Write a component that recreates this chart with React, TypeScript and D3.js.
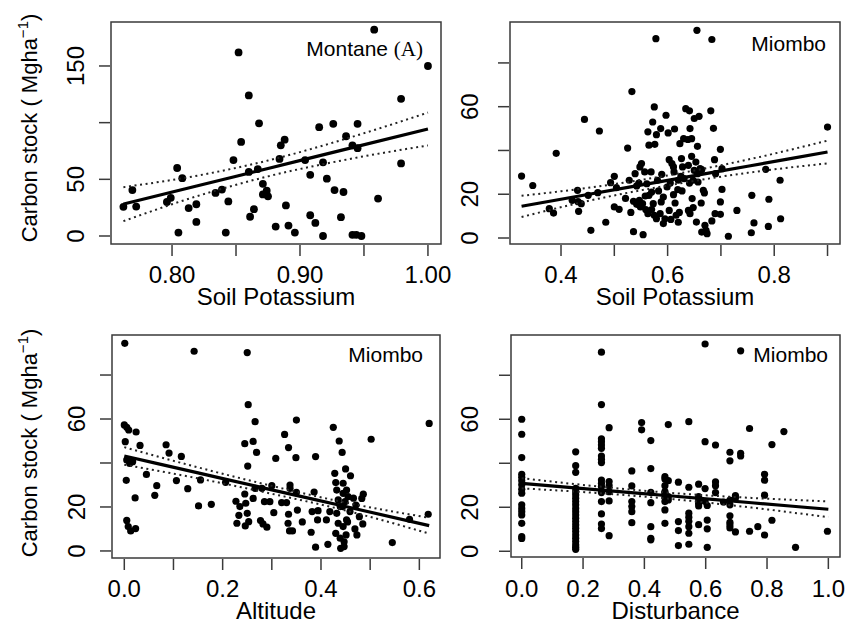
import React from 'react';
import * as d3 from 'd3';

// ---------- DATA ----------
// Panel A: Montane, Soil Potassium vs Carbon stock
const montanePts: [number, number][] = [
  [0.958, 182], [0.852, 162], [1.0, 150], [0.86, 124], [0.979, 121], [0.868, 99.4],
  [0.915, 96], [0.926, 99], [0.945, 99], [0.888, 85], [0.885, 80], [0.854, 83],
  [0.936, 88], [0.941, 80], [0.945, 77.5], [0.848, 67], [0.884, 68], [0.904, 67],
  [0.918, 65], [0.979, 64], [0.804, 60], [0.808, 51], [0.86, 56.5], [0.867, 59],
  [0.908, 54], [0.921, 50.6], [0.769, 40.5], [0.762, 25.7], [0.772, 26], [0.796, 30],
  [0.799, 33.7], [0.813, 24.6], [0.819, 28], [0.834, 38], [0.839, 41], [0.844, 30.5],
  [0.871, 46], [0.874, 40], [0.871, 36.7], [0.875, 35], [0.927, 40.5], [0.934, 38.8],
  [0.961, 33], [0.889, 27], [0.864, 23.7], [0.861, 17], [0.908, 18.3], [0.912, 11.5],
  [0.932, 16.6], [0.819, 12.4], [0.805, 3], [0.842, 3], [0.881, 8.3], [0.891, 9.2],
  [0.896, 3], [0.918, 0], [0.941, 1], [0.944, 1], [0.948, 0],
];
const montaneFitX = [0.762, 0.82, 0.875, 0.94, 1.0];
const montaneFit = [28.1, 44.3, 59.6, 77.7, 94.4];
const montaneUpper = [43.1, 53.3, 66.6, 87.2, 108.9];
const montaneLower = [13.1, 35.3, 52.6, 68.2, 79.9];

// Panel B: Miombo, Soil Potassium
const miomboKPts: [number, number][] = [
  [0.326, 28.3], [0.347, 24], [0.391, 38.7], [0.378, 13.4], [0.386, 11.4], [0.431, 21.8],
  [0.421, 17.2], [0.432, 16.6], [0.438, 15.7], [0.433, 12.2], [0.444, 54.2], [0.451, 19.5],
  [0.456, 3.5], [0.472, 48.9], [0.469, 20.7], [0.484, 7.2], [0.493, 25.3], [0.5, 28.2],
  [0.504, 23], [0.5, 14.2], [0.509, 13.1], [0.521, 18.1], [0.525, 41.1], [0.528, 26.4],
  [0.533, 66.9], [0.531, 11.7], [0.536, 2.9], [0.539, 29.4], [0.542, 23.8], [0.546, 25.1],
  [0.551, 34], [0.547, 17.2], [0.553, 15.7], [0.554, 1.5], [0.558, 19.2], [0.561, 24.8],
  [0.563, 48.5], [0.565, 42.4], [0.569, 30.2], [0.57, 21], [0.572, 53], [0.575, 59.9],
  [0.578, 91.1], [0.576, 42.8], [0.579, 47.2], [0.581, 26.4], [0.573, 15.7], [0.57, 13],
  [0.575, 10.4], [0.579, 8.8], [0.586, 11.1], [0.588, 16.5], [0.589, 29.1], [0.587, 50],
  [0.592, 6.6], [0.595, 8.8], [0.597, 56.1], [0.599, 23.3], [0.601, 48], [0.603, 35.8],
  [0.603, 12.6], [0.605, 25.1], [0.606, 8.5], [0.608, 34], [0.611, 19.8], [0.613, 49.8],
  [0.612, 30.2], [0.614, 16], [0.616, 10.4], [0.619, 22.1], [0.62, 7.2], [0.622, 11.7],
  [0.623, 43.1], [0.625, 28.2], [0.627, 21.5], [0.628, 32.5], [0.63, 45.4], [0.634, 59.1],
  [0.641, 58.1], [0.638, 45], [0.642, 50], [0.639, 33.2], [0.641, 25.1], [0.639, 12.6],
  [0.645, 45.4], [0.645, 37.3], [0.646, 18], [0.648, 13.9], [0.65, 54.6], [0.65, 30.9],
  [0.653, 34.7], [0.656, 41.9], [0.654, 7.3], [0.655, 94.9], [0.657, 25.6], [0.659, 55.6],
  [0.661, 31.7], [0.663, 16], [0.667, 21.8], [0.669, 20.6], [0.67, 5.8], [0.672, 3.5],
  [0.674, 2], [0.664, 2.7], [0.681, 58.1], [0.683, 90.7], [0.683, 7.8], [0.686, 50.1],
  [0.688, 35.8], [0.69, 29.4], [0.689, 11.1], [0.699, 40.5], [0.699, 10.8], [0.702, 22.2],
  [0.702, 31.7], [0.699, 16.5], [0.714, 0.8], [0.73, 12.6], [0.758, 19.5], [0.762, 6.9],
  [0.757, 2.4], [0.784, 31.4], [0.79, 17.7], [0.789, 5.3], [0.811, 26.4], [0.812, 8.8],
  [0.9, 50.7], [0.536, 16.8], [0.542, 15.4], [0.549, 14.2], [0.559, 13], [0.563, 11.1],
  [0.565, 19.5], [0.583, 21.5], [0.592, 18.7], [0.62, 26.4], [0.631, 27.1], [0.648, 26.4],
  [0.656, 29.4], [0.664, 31.2], [0.642, 11.1], [0.626, 36.3], [0.611, 32.5], [0.557, 30.2],
  [0.548, 32.5],
];
const miomboKFitX = [0.326, 0.45, 0.6, 0.75, 0.9];
const miomboKFit = [14.5, 19.9, 26.3, 32.8, 39.3];
const miomboKUpper = [19.3, 22.9, 28.6, 35.8, 44.5];
const miomboKLower = [9.6, 16.9, 24.0, 29.8, 34.1];

// Panel C: Miombo, Altitude
const altitudePts: [number, number][] = [
  [0.001, 94.4], [0.142, 90.8], [0.25, 90.2], [0.252, 66.5], [0.266, 58.8], [0.35, 59.5],
  [0.62, 58], [0.425, 56.2], [0.0, 57.3], [0.005, 56.2], [0.009, 55], [0.024, 54.1],
  [0.002, 49.7], [0.032, 48], [0.085, 48.3], [0.091, 44.5], [0.116, 43], [0.005, 41.4],
  [0.017, 40.6], [0.011, 39.8], [0.004, 32.1], [0.045, 34.8], [0.022, 24.1], [0.066, 29.7],
  [0.062, 25.3], [0.106, 32], [0.129, 28.3], [0.155, 32.3], [0.151, 20.5], [0.177, 21.2],
  [0.206, 31.2], [0.245, 48.8], [0.262, 49.8], [0.269, 44.8], [0.251, 38.6], [0.245, 25.9],
  [0.227, 22.6], [0.235, 20.2], [0.247, 21.7], [0.233, 16.2], [0.25, 17.1], [0.229, 12.6],
  [0.246, 11.4], [0.253, 13.3], [0.262, 23.9], [0.266, 28.5], [0.28, 28.5], [0.285, 22.4],
  [0.277, 13.8], [0.282, 12.3], [0.29, 10.8], [0.296, 22.4], [0.3, 29.7], [0.304, 17.4],
  [0.308, 42.1], [0.326, 53], [0.334, 47], [0.349, 42.4], [0.32, 22], [0.33, 22],
  [0.337, 30], [0.337, 28.5], [0.334, 16.7], [0.333, 12.6], [0.336, 9.1], [0.342, 9.1],
  [0.35, 26.7], [0.352, 18.6], [0.362, 13.2], [0.38, 8.5], [0.386, 26.8], [0.389, 42.9],
  [0.382, 17.9], [0.394, 18.3], [0.393, 14.1], [0.389, 1.7], [0.414, 3], [0.411, 14.1],
  [0.418, 17.9], [0.428, 35.3], [0.43, 31.1], [0.432, 27.7], [0.437, 50], [0.443, 44.8],
  [0.435, 23.2], [0.439, 20.2], [0.432, 17.1], [0.435, 12.6], [0.43, 8], [0.439, 5.8],
  [0.44, 1.2], [0.447, 2], [0.45, 37.3], [0.46, 34.2], [0.445, 30.8], [0.452, 27.7],
  [0.455, 24.7], [0.445, 26.2], [0.449, 22.4], [0.452, 14.1], [0.445, 11.1], [0.451, 7.3],
  [0.447, 4.2], [0.444, 20.2], [0.459, 17.9], [0.466, 24], [0.471, 20.9], [0.454, 13.2],
  [0.469, 10], [0.473, 7.3], [0.478, 15.6], [0.483, 23.9], [0.486, 25.8], [0.485, 12.3],
  [0.502, 50.8], [0.545, 3.8], [0.58, 14.4], [0.618, 16.7], [0.005, 13.9], [0.008, 11.1],
  [0.013, 9.1], [0.023, 10.2],
];
const altitudeFitX = [0.0, 0.15, 0.3, 0.45, 0.62];
const altitudeFit = [43.2, 35.5, 27.8, 20.2, 11.5];
const altitudeUpper = [47.2, 38.0, 29.6, 22.0, 15.1];
const altitudeLower = [39.2, 33.0, 26.0, 18.4, 7.9];

// Panel D: Miombo, Disturbance (discrete levels)
const disturbanceLevels = [
  0.0, 0.176, 0.26, 0.285, 0.359, 0.391, 0.421, 0.467, 0.478, 0.511, 0.545, 0.577,
  0.598, 0.605, 0.632, 0.658, 0.679, 0.697, 0.714, 0.743, 0.77, 0.792, 0.816, 0.855,
  0.893, 0.997,
];
const carbonByDisturbance: number[][] = [
  [60, 53.2, 42.6, 35, 33.6, 32, 30.2, 28.2, 26.4, 21.1, 19.5, 18, 16.5, 12.7, 6.7, 5.8],
  [45.2, 38.9, 35.9, 28.6, 27.1, 25.6, 24.1, 22.6, 21.1, 19.5, 18, 16.5, 15, 13.5, 12, 10.5, 9, 7.4, 5.9, 4.4, 2.9, 1.8, 0.9],
  [90.5, 66.7, 51.1, 49.8, 48.3, 46.8, 43.3, 41.8, 40.3, 32.4, 30.9, 29.4, 26.7, 22.6, 17, 12.4, 10.3],
  [56.2, 31.7, 29.8, 27.1, 22.9, 7.1],
  [36.5, 29.7, 22.6, 20.3, 18, 13],
  [58.5, 55.2],
  [50.3, 37.6, 26.8, 22.1, 11.2, 5.9, 5.2],
  [33.9, 32.9, 29.8, 27.1, 26.2, 24.4, 22.6, 18.8, 12.7],
  [57.6, 32.1, 24.8, 23.3],
  [31.4, 13.5, 9.4, 2.6],
  [58.9, 29.1, 17.3, 15.5, 13.6, 11.2, 8.2, 3.2],
  [30.5, 24.8, 23.3, 21.8, 20.6, 12.1],
  [94.2, 49.8, 28.5, 22.6],
  [20.8, 14.2, 10.2, 1.8],
  [48.3, 31.5, 29.8, 26.7],
  [22.4],
  [45, 41.1, 23.3, 21.1, 16.1, 13.2, 12, 10.6],
  [25.3, 24.2, 8.8],
  [91.1, 44.5, 43.3],
  [55.8, 9.1],
  [11.2],
  [35, 32.3, 25.5, 7.4],
  [48.5, 14.1],
  [54.4],
  [1.8],
  [9.1],
];
const disturbanceFitX = [0.0, 0.25, 0.5, 0.75, 1.0];
const disturbanceFit = [30.9, 27.95, 25.0, 22.05, 19.1];
const disturbanceUpper = [33.2, 29.45, 26.4, 24.25, 22.7];
const disturbanceLower = [28.6, 26.45, 23.6, 19.85, 15.5];

// Axis ticks and labels
const montaneXTicks = [0.8, 0.85, 0.9, 0.95, 1.0];
const montaneXLabels = ['0.80', '0.90', '1.00'];
const montaneYTicks = [0, 50, 100, 150];
const montaneYLabels = ['0', '50', '150'];
const miomboKXTicks = [0.4, 0.5, 0.6, 0.7, 0.8, 0.9];
const miomboKXLabels = ['0.4', '0.6', '0.8'];
const miomboYTicks = [0, 20, 40, 60, 80];
const miomboYLabels = ['0', '20', '60'];
const altitudeXTicks = [0, 0.1, 0.2, 0.3, 0.4, 0.5, 0.6];
const altitudeXLabels = ['0.0', '0.2', '0.4', '0.6'];
const disturbanceXTicks = [0, 0.2, 0.4, 0.6, 0.8, 1.0];
const disturbanceXLabels = ['0.0', '0.2', '0.4', '0.6', '0.8', '1.0'];

const FONT = '"Liberation Sans", Arial, Helvetica, sans-serif';
const INK = '#3a3a3a';

type PanelSpec = {
  left: number; right: number; top: number; bottom: number;
  xDomain: [number, number]; yDomain: [number, number];
  pts: [number, number][];
  fitX: number[]; fit: number[]; upper: number[]; lower: number[];
  xTicks: number[]; xLabels: string[]; yTicks: number[]; yLabels: string[];
  xTitle: string; tickLabelBase: number; titleBase: number; yLabelX: number;
  r: number;
  tag: React.ReactNode; tagX: number; tagY: number;
};

function Panel({ p }: { p: PanelSpec }) {
  const x = d3.scaleLinear().domain(p.xDomain).range([p.left, p.right]);
  const y = d3.scaleLinear().domain(p.yDomain).range([p.bottom, p.top]);
  const mk = (vals: number[]) =>
    d3.line<number>().x((_, i) => x(p.fitX[i])).y((v) => y(v)).curve(d3.curveMonotoneX)(vals) || '';
  const tickLen = 12;
  return (
    <g>
      {p.pts.map(([a, b], i) => (
        <circle key={i} cx={x(a)} cy={y(b)} r={p.r} fill="#000" />
      ))}
      <path d={mk(p.upper)} fill="none" stroke="#222" strokeWidth={2} strokeDasharray="2,3.6" />
      <path d={mk(p.lower)} fill="none" stroke="#222" strokeWidth={2} strokeDasharray="2,3.6" />
      <path d={mk(p.fit)} fill="none" stroke="#000" strokeWidth={3.2} />
      <rect x={p.left} y={p.top} width={p.right - p.left} height={p.bottom - p.top}
        fill="none" stroke={INK} strokeWidth={1.5} />
      {p.xTicks.map((t, i) => (
        <line key={'xt' + i} x1={x(t)} x2={x(t)} y1={p.bottom + 1} y2={p.bottom + tickLen} stroke={INK} strokeWidth={1.5} />
      ))}
      {p.yTicks.map((t, i) => (
        <line key={'yt' + i} y1={y(t)} y2={y(t)} x1={p.left - 1} x2={p.left - tickLen} stroke={INK} strokeWidth={1.5} />
      ))}
      {p.xLabels.map((l, i) => (
        <text key={'xl' + i} x={x(parseFloat(l))} y={p.tickLabelBase} textAnchor="middle"
          fontFamily={FONT} fontSize={24} fill="#000">{l}</text>
      ))}
      {p.yLabels.map((l, i) => {
        const yy = y(parseFloat(l));
        return (
          <text key={'yl' + i} x={p.yLabelX} y={yy} textAnchor="middle"
            transform={`rotate(-90, ${p.yLabelX}, ${yy})`}
            fontFamily={FONT} fontSize={24} fill="#000">{l}</text>
        );
      })}
      <text x={(p.left + p.right) / 2} y={p.titleBase} textAnchor="middle"
        fontFamily={FONT} fontSize={24} fill="#000">{p.xTitle}</text>
      <text x={p.tagX} y={p.tagY} textAnchor="end" fontFamily={FONT} fontSize={21} fill="#000">{p.tag}</text>
    </g>
  );
}

function YTitle({ cx, cy }: { cx: number; cy: number }) {
  return (
    <text x={cx} y={cy} textAnchor="middle" transform={`rotate(-90, ${cx}, ${cy})`}
      fontFamily={FONT} fontSize={22} fill="#000">
      Carbon stock ( Mgha
      <tspan fontSize={15} dy={-9}>−1</tspan>
      <tspan dy={9}>)</tspan>
    </text>
  );
}

export default function App() {
  const disturbancePts: [number, number][] = [];
  disturbanceLevels.forEach((lv, i) => carbonByDisturbance[i].forEach((c) => disturbancePts.push([lv, c])));

  const panels: PanelSpec[] = [
    {
      left: 111, right: 441, top: 22, bottom: 244,
      xDomain: [0.7523, 1.0102], yDomain: [-7.06, 188.8],
      pts: montanePts, fitX: montaneFitX, fit: montaneFit, upper: montaneUpper, lower: montaneLower,
      xTicks: montaneXTicks, xLabels: montaneXLabels, yTicks: montaneYTicks, yLabels: montaneYLabels,
      xTitle: 'Soil Potassium', tickLabelBase: 283, titleBase: 305, yLabelX: 84, r: 3.9,
      tag: (<>Montane <tspan fontFamily='"Liberation Serif", "Times New Roman", serif'>(A)</tspan></>),
      tagX: 423, tagY: 56,
    },
    {
      left: 510, right: 840, top: 22, bottom: 244,
      xDomain: [0.3043, 0.9234], yDomain: [-2.74, 98.7],
      pts: miomboKPts, fitX: miomboKFitX, fit: miomboKFit, upper: miomboKUpper, lower: miomboKLower,
      xTicks: miomboKXTicks, xLabels: miomboKXLabels, yTicks: miomboYTicks, yLabels: miomboYLabels,
      xTitle: 'Soil Potassium', tickLabelBase: 283, titleBase: 305, yLabelX: 478, r: 3.6,
      tag: 'Miombo', tagX: 826, tagY: 51,
    },
    {
      left: 112, right: 440, top: 335, bottom: 558,
      xDomain: [-0.0250, 0.642], yDomain: [-3.2, 98.2],
      pts: altitudePts, fitX: altitudeFitX, fit: altitudeFit, upper: altitudeUpper, lower: altitudeLower,
      xTicks: altitudeXTicks, xLabels: altitudeXLabels, yTicks: miomboYTicks, yLabels: miomboYLabels,
      xTitle: 'Altitude', tickLabelBase: 597, titleBase: 619, yLabelX: 85, r: 3.6,
      tag: 'Miombo', tagX: 423, tagY: 362,
    },
    {
      left: 511, right: 840, top: 335, bottom: 557,
      xDomain: [-0.035, 1.038], yDomain: [-2.6, 98.3],
      pts: disturbancePts, fitX: disturbanceFitX, fit: disturbanceFit, upper: disturbanceUpper, lower: disturbanceLower,
      xTicks: disturbanceXTicks, xLabels: disturbanceXLabels, yTicks: miomboYTicks, yLabels: miomboYLabels,
      xTitle: 'Disturbance', tickLabelBase: 597, titleBase: 619, yLabelX: 478, r: 3.6,
      tag: 'Miombo', tagX: 828, tagY: 362,
    },
  ];

  return (
    <svg width={846} height={624} viewBox="0 0 846 624"
      style={{ position: 'absolute', left: 0, top: 0, background: '#fff' }}>
      <rect x={0} y={0} width={846} height={624} fill="#fff" />
      {panels.map((p, i) => <Panel key={i} p={p} />)}
      <YTitle cx={37} cy={128} />
      <YTitle cx={37} cy={443} />
    </svg>
  );
}
